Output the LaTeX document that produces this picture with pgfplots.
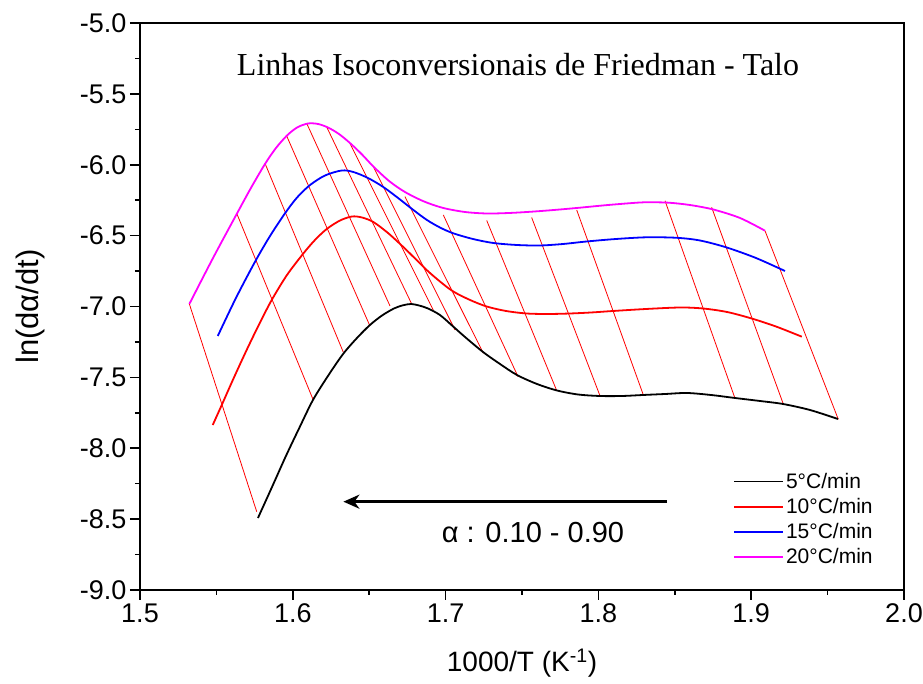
\documentclass[border=0pt]{standalone}
\usepackage{fontspec}
\setmainfont{Liberation Sans}
\newfontfamily\timesfont{Liberation Serif}
\usepackage{pgfplots}
\pgfplotsset{compat=1.18}
\usetikzlibrary{arrows.meta}
\definecolor{magline}{RGB}{255,0,255}
\begin{document}
\begin{tikzpicture}
\begin{axis}[
 scale only axis, width=764pt, height=567pt,
 xmin=1.5, xmax=2.0, ymin=-9, ymax=-5,
 xtick={1.5,1.6,1.7,1.8,1.9,2.0},
 ytick={-9,-8.5,-8,-7.5,-7,-6.5,-6,-5.5,-5},
 minor x tick num=1, minor y tick num=1,
 tick align=outside, xtick pos=bottom, ytick pos=left,
 major tick length=10pt, minor tick length=5pt,
 axis line style={line width=2.2pt},
 every tick/.style={black, line width=1.6pt},
 /pgf/number format/assume math mode=true,
 xticklabel={\pgfmathprintnumber[fixed,fixed zerofill,precision=1,assume math mode=true]{\tick}},
 yticklabel={\pgfmathprintnumber[fixed,fixed zerofill,precision=1,assume math mode=true]{\tick}},
 tick label style={font=\fontsize{27}{31}\selectfont},
 xlabel={1000/T (K\textsuperscript{-1})},
 ylabel={ln(d\symbol{"03B1}/dt)},
 xlabel style={font=\fontsize{28}{32}\selectfont, at={(axis description cs:0.5,-0.1287)}, anchor=center},
 ylabel style={font=\fontsize{31}{35}\selectfont, at={(axis description cs:-0.144,0.5)}, anchor=center},
 legend style={draw=none, fill=none, at={(axis cs:1.8881,-8.16)}, anchor=north west,
   font=\fontsize{21}{25}\selectfont, row sep=4.5pt, cells={anchor=west}, inner sep=0pt},
 legend image code/.code={\draw[#1] (0pt,0pt) -- (49pt,0pt);},
]
\coordinate (SW) at (rel axis cs:0,0);
\coordinate (NE) at (rel axis cs:1,1);
% isoconversional lines
\addplot[red, line width=0.8pt, forget plot] coordinates {(1.5323,-6.982) (1.5764,-8.448)};
\addplot[red, line width=0.8pt, forget plot] coordinates {(1.5633,-6.343) (1.6134,-7.660)};
\addplot[red, line width=0.8pt, forget plot] coordinates {(1.5818,-5.990) (1.6330,-7.321)};
\addplot[red, line width=0.8pt, forget plot] coordinates {(1.5960,-5.797) (1.6505,-7.138)};
\addplot[red, line width=0.8pt, forget plot] coordinates {(1.6091,-5.708) (1.6636,-6.996)};
\addplot[red, line width=0.8pt, forget plot] coordinates {(1.6222,-5.734) (1.6778,-6.982)};
\addplot[red, line width=0.8pt, forget plot] coordinates {(1.6374,-5.849) (1.6919,-7.025)};
\addplot[red, line width=0.8pt, forget plot] coordinates {(1.6527,-6.014) (1.7062,-7.166)};
\addplot[red, line width=0.8pt, forget plot] coordinates {(1.6734,-6.225) (1.7247,-7.330)};
\addplot[red, line width=0.8pt, forget plot] coordinates {(1.6985,-6.354) (1.7474,-7.495)};
\addplot[red, line width=0.8pt, forget plot] coordinates {(1.7269,-6.393) (1.7727,-7.593)};
\addplot[red, line width=0.8pt, forget plot] coordinates {(1.7563,-6.372) (1.8010,-7.629)};
\addplot[red, line width=0.8pt, forget plot] coordinates {(1.7858,-6.319) (1.8294,-7.624)};
\addplot[red, line width=0.8pt, forget plot] coordinates {(1.8436,-6.254) (1.8894,-7.648)};
\addplot[red, line width=0.8pt, forget plot] coordinates {(1.8741,-6.300) (1.9210,-7.688)};
\addplot[red, line width=0.8pt, forget plot] coordinates {(1.9090,-6.465) (1.9570,-7.796)};
% 5 C/min
\addplot[black, line width=1.8pt, smooth] coordinates {
(1.5772,-8.4921) (1.5864,-8.2734) (1.5955,-8.0547) (1.6047,-7.8466) (1.6132,-7.6596)
(1.6230,-7.4903) (1.6329,-7.3351) (1.6420,-7.2222) (1.6505,-7.1305) (1.6584,-7.0635)
(1.6662,-7.0141) (1.6721,-6.9915) (1.6774,-6.9824) (1.6826,-6.9929) (1.6885,-7.0141)
(1.6963,-7.0600) (1.7042,-7.1340) (1.7127,-7.2152) (1.7245,-7.3210) (1.7356,-7.4056)
(1.7467,-7.4832) (1.7598,-7.5467) (1.7729,-7.5926) (1.7867,-7.6208) (1.8010,-7.6314)
(1.8154,-7.6314) (1.8292,-7.6243) (1.8436,-7.6173) (1.8580,-7.6102) (1.8737,-7.6243)
(1.8894,-7.6455) (1.9058,-7.6667) (1.9208,-7.6878) (1.9385,-7.7302) (1.9568,-7.7937)};
\addlegendentry{5°C/min}
% 10 C/min
\addplot[red, line width=1.8pt, smooth] coordinates {
(1.5476,-7.8360) (1.5535,-7.6949) (1.5615,-7.5009) (1.5698,-7.3069) (1.5779,-7.1270)
(1.5862,-6.9541) (1.5962,-6.7778) (1.6069,-6.6261) (1.6145,-6.5309) (1.6222,-6.4533)
(1.6309,-6.3933) (1.6387,-6.3651) (1.6453,-6.3721) (1.6527,-6.4039) (1.6623,-6.4815)
(1.6723,-6.5802) (1.6800,-6.6614) (1.6876,-6.7425) (1.6963,-6.8236) (1.7050,-6.8942)
(1.7160,-6.9541) (1.7269,-7.0000) (1.7395,-7.0317) (1.7531,-7.0494) (1.7670,-7.0529)
(1.7814,-7.0494) (1.7952,-7.0423) (1.8096,-7.0317) (1.8312,-7.0176) (1.8534,-7.0071)
(1.8685,-7.0141) (1.8842,-7.0388) (1.9003,-7.0847) (1.9162,-7.1411) (1.9331,-7.2130)};
\addlegendentry{10°C/min}
% 15 C/min
\addplot[blue, line width=1.8pt, smooth] coordinates {
(1.5509,-7.2081) (1.5628,-6.9400) (1.5753,-6.6840) (1.5851,-6.5027) (1.5949,-6.3425)
(1.6028,-6.2310) (1.6113,-6.1429) (1.6211,-6.0758) (1.6320,-6.0406) (1.6396,-6.0511)
(1.6492,-6.0935) (1.6592,-6.1570) (1.6689,-6.2346) (1.6789,-6.3192) (1.6878,-6.3898)
(1.6963,-6.4427) (1.7050,-6.4836) (1.7179,-6.5238) (1.7312,-6.5520) (1.7467,-6.5661)
(1.7618,-6.5697) (1.7768,-6.5591) (1.7923,-6.5414) (1.8115,-6.5238) (1.8316,-6.5118)
(1.8512,-6.5153) (1.8665,-6.5344) (1.8840,-6.5838) (1.9031,-6.6578) (1.9221,-6.7496)};
\addlegendentry{15°C/min}
% 20 C/min
\addplot[magline, line width=1.8pt, smooth] coordinates {
(1.5323,-6.9824) (1.5478,-6.6578) (1.5633,-6.3474) (1.5726,-6.1640) (1.5818,-5.9947)
(1.5890,-5.8818) (1.5962,-5.7937) (1.6028,-5.7372) (1.6099,-5.7090) (1.6165,-5.7125)
(1.6230,-5.7372) (1.6302,-5.7831) (1.6374,-5.8466) (1.6453,-5.9277) (1.6527,-6.0123)
(1.6630,-6.1146) (1.6734,-6.1922) (1.6859,-6.2593) (1.6985,-6.3051) (1.7127,-6.3333)
(1.7269,-6.3439) (1.7415,-6.3404) (1.7563,-6.3312) (1.7709,-6.3192) (1.7858,-6.3051)
(1.8063,-6.2840) (1.8272,-6.2663) (1.8370,-6.2649) (1.8469,-6.2684) (1.8599,-6.2840)
(1.8752,-6.3157) (1.8927,-6.3757) (1.9090,-6.4652)};
\addlegendentry{20°C/min}
\node[font=\timesfont\fontsize{32}{36}\selectfont] at (axis cs:1.7474,-5.296) {Linhas Isoconversionais de Friedman - Talo};
\draw[line width=3pt, -{Stealth[length=16pt,width=14pt,inset=5pt]}] (axis cs:1.8449,-8.377) -- (axis cs:1.6331,-8.377);
\node[font=\fontsize{29}{33}\selectfont] at (axis cs:1.7572,-8.594) {\symbol{"03B1} : 0.10 - 0.90};
\end{axis}
\pgfresetboundingbox
\path[use as bounding box] ([shift={(-140pt,-94pt)}]SW) rectangle ([shift={(19pt,23pt)}]NE);
\end{tikzpicture}
\end{document}
